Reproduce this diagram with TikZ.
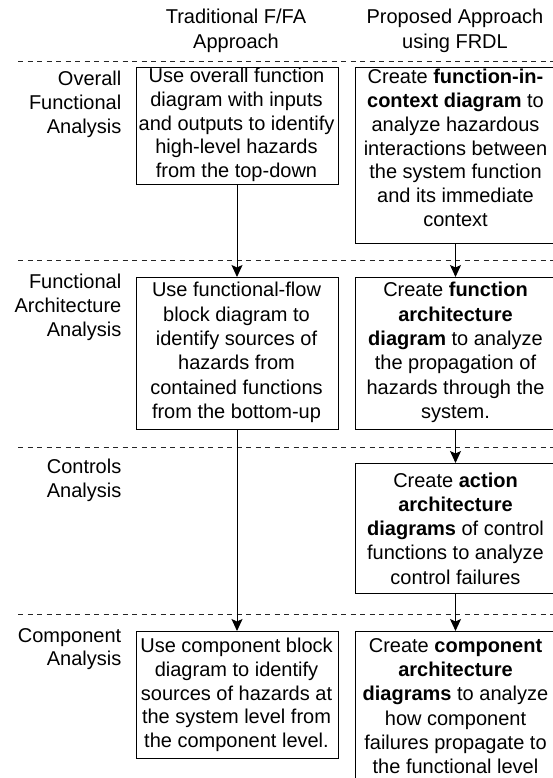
\documentclass[tikz,border=0pt]{standalone}
\usepackage{fontspec}
\setmainfont{Liberation Sans}
\usetikzlibrary{arrows.meta}
\begin{document}
\begin{tikzpicture}[x=1pt,y=-1pt,
 every node/.style={font=\fontsize{20}{23.8}\selectfont, inner sep=0pt, align=center},
 box/.style={draw, line width=1pt, anchor=north west},
 sep/.style={draw=black!85, line width=0.8pt, dash pattern=on 5.3pt off 4.2pt},
 arr/.style={line width=1pt, -{Stealth[length=12pt,width=11pt,inset=2.5pt]}},
 lbl/.style={align=right, anchor=east},
 wide/.style={font=\fontsize{20}{24.3}\selectfont}]
\useasboundingbox (0,0) rectangle (553,778);
\clip (0,0) rectangle (553,778);
% separators
\draw[sep] (18,61) -- (553,61);
\draw[sep] (18,260) -- (553,260);
\draw[sep] (18,447) -- (553,447);
\draw[sep] (18,614) -- (553,614);
% headers
\node[font=\fontsize{20}{25}\selectfont] (h1) at (236,30.5) {Traditional F/FA\\Approach};
\node[font=\fontsize{20}{25}\selectfont] (h2) at (455,30.5) {Proposed Approach\\using FRDL};
% row labels
\node[lbl] (l1) at (121.5,104.5) {Overall\\Functional\\Analysis};
\node[lbl] (l2) at (121.5,307.5) {Functional\\Architecture\\Analysis};
\node[lbl] (l3) at (121.5,480.5) {Controls\\Analysis};
\node[lbl] (l4) at (121.5,649) {Component\\Analysis};
% boxes
\node[box, minimum width=202, minimum height=117] (b1) at (135.5,67) {};
\node[box, minimum width=240, minimum height=176] (b2) at (354.5,67) {};
\node[box, minimum width=202, minimum height=152] (b3) at (135.5,277) {};
\node[box, minimum width=240, minimum height=152] (b4) at (354.5,277) {};
\node[box, minimum width=240, minimum height=130] (b5) at (354.5,463) {};
\node[box, minimum width=202, minimum height=127] (b6) at (135.5,631) {};
\node[box, minimum width=240, minimum height=170] (b7) at (354.5,631) {};
% texts
\node (t1) at (236.5,125) {Use overall function\\diagram with inputs\\and outputs to identify\\high-level hazards\\from the top-down};
\node (t2) at (455.5,148) {Create \textbf{function-in-}\\\textbf{context diagram} to\\analyze hazardous\\interactions between\\the system function\\and its immediate\\context};
\node[wide] (t3) at (236.5,352.5) {Use functional-flow\\block diagram to\\identify sources of\\hazards from\\contained functions\\from the bottom-up};
\node[wide] (t4) at (455.5,352.5) {Create \textbf{function}\\\textbf{architecture}\\\textbf{diagram} to analyze\\the propagation of\\hazards through the\\system.};
\node[wide] (t5) at (455.5,528.5) {Create \textbf{action}\\\textbf{architecture}\\\textbf{diagrams} of control\\functions to analyze\\control failures};
\node (t6) at (236.5,695) {Use component block\\diagram to identify\\sources of hazards at\\the system level from\\the component level.};
\node[wide] (t7) at (455.5,706) {Create \textbf{component}\\\textbf{architecture}\\\textbf{diagrams} to analyze\\how component\\failures propagate to\\the functional level};
% arrows
\draw[arr] (b1.south) -- (b3.north);
\draw[arr] (b3.south) -- (b6.north);
\draw[arr] (t2 |- b2.south) -- (t2 |- b4.north);
\draw[arr] (t4 |- b4.south) -- (t4 |- b5.north);
\draw[arr, line width=1.6pt] (t5 |- b5.south) -- (t5 |- b7.north);
\end{tikzpicture}
\end{document}
